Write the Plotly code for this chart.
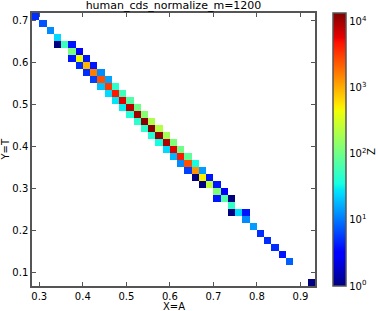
import numpy as np
import plotly.graph_objects as go

title_text = "human_cds_normalize_m=1200"
x_label = "X=A"
y_label = "Y=T"
z_label = "Z"

# histogram grid (bin edges on multiples of 1/60)
bin_width = 1 / 60
a_first_edge = 17 / 60
t_first_edge = 4 / 60
n_bins = 39

# non-empty rows of the 2-D histogram: T bin centre, A centre of first filled bin, counts
row_t = [0.7083, 0.6917, 0.6750, 0.6583, 0.6417, 0.6250, 0.6083, 0.5917, 0.5750, 0.5583,
         0.5417, 0.5250, 0.5083, 0.4917, 0.4750, 0.4583, 0.4417, 0.4250, 0.4083, 0.3917,
         0.3750, 0.3583, 0.3417, 0.3250, 0.3083, 0.2917, 0.2750, 0.2583, 0.2417, 0.2250,
         0.2083, 0.1917, 0.1750, 0.1583, 0.1417, 0.1250, 0.0750]
row_a_first = [0.2917, 0.3083, 0.3250, 0.3417, 0.3417, 0.3750, 0.3750, 0.3917, 0.4083, 0.4250,
               0.4417, 0.4583, 0.4750, 0.4917, 0.5083, 0.5250, 0.5417, 0.5583, 0.5750, 0.5917,
               0.6083, 0.6250, 0.6417, 0.6583, 0.6750, 0.7083, 0.7083, 0.7417, 0.7417, 0.7750,
               0.7917, 0.8083, 0.8250, 0.8417, 0.8583, 0.8750, 0.9250]
row_counts = [
    [5], [7], [12], [25], [1, 55, 4], [110, 3], [4, 450, 4], [5, 900, 4], [5, 1600, 12],
    [6, 2500, 15], [20, 3200, 45], [25, 4500, 55], [28, 6000, 70], [30, 8000, 100],
    [40, 10000, 130], [45, 12000, 200], [45, 12500, 220], [40, 11000, 180], [35, 9000, 120],
    [25, 6000, 100], [18, 4500, 80], [12, 2500, 35], [6, 1300, 14], [1, 500, 4], [1, 250, 4],
    [120, 3], [4, 70, 1], [50], [1, 25, 4], [12], [14], [5], [5], [5], [4], [8], [1],
]
z_max_count = 13300
cbar_ticks = [1, 10, 100, 1000, 10000]


def mpl_jet():
    pts = sorted({0, 0.11, 0.125, 0.34, 0.35, 0.375, 0.64, 0.65, 0.66, 0.89, 0.91, 1})
    r = np.interp(pts, [0, 0.35, 0.66, 0.89, 1], [0, 0, 1, 1, 0.5])
    g = np.interp(pts, [0, 0.125, 0.375, 0.64, 0.91, 1], [0, 0, 1, 1, 0, 0])
    b = np.interp(pts, [0, 0.11, 0.34, 0.65, 1], [0.5, 1, 1, 0, 0])
    return [[p, f"rgb({round(255*rr)},{round(255*gg)},{round(255*bb)})"]
            for p, rr, gg, bb in zip(pts, r, g, b)]


a_centers = a_first_edge + bin_width * (np.arange(n_bins) + 0.5)
t_centers = t_first_edge + bin_width * (np.arange(n_bins) + 0.5)
z = [[None] * n_bins for _ in range(n_bins)]
for t, a0, counts in zip(row_t, row_a_first, row_counts):
    j = int(round((t - t_first_edge) / bin_width - 0.5))
    for k, c in enumerate(counts):
        i = int(round((a0 - a_first_edge) / bin_width - 0.5)) + k
        z[j][i] = float(np.log10(c))

FONT = "DejaVu Sans"
LINE = "#555555"

fig = go.Figure(go.Heatmap(
    x=a_centers, y=t_centers, z=z,
    colorscale=mpl_jet(), zmin=0, zmax=float(np.log10(z_max_count)),
    hoverongaps=False,
    colorbar=dict(
        thickness=13, thicknessmode="pixels", len=1, lenmode="fraction",
        x=1.0636, xanchor="left", y=0.5, yanchor="middle", xpad=0, ypad=0,
        outlinecolor=LINE, outlinewidth=1.5,
        tickvals=[float(np.log10(v)) for v in cbar_ticks],
        ticktext=[f"10<sup>{int(np.log10(v))}</sup>" for v in cbar_ticks],
        ticks="", tickfont=dict(family=FONT, size=10, color="black"),
    ),
))

axis_common = dict(
    ticks="inside", ticklen=4, tickwidth=1, tickcolor=LINE,
    showline=True, linecolor=LINE, linewidth=1.5, mirror="ticks",
    showgrid=False, zeroline=False, automargin=False,
    tickfont=dict(family=FONT, size=10, color="black"),
)
x_ticks = [0.3, 0.4, 0.5, 0.6, 0.7, 0.8, 0.9]
y_ticks = [0.1, 0.2, 0.3, 0.4, 0.5, 0.6, 0.7]

fig.update_layout(
    width=378, height=311,
    margin=dict(l=32, r=63, t=13, b=25, pad=0),
    paper_bgcolor="white", plot_bgcolor="white",
    title=dict(text=title_text, x=0.5, xref="paper", xanchor="center",
               y=1 - 5.5 / 311, yref="container", yanchor="middle",
               font=dict(family=FONT, size=11, color="black")),
    xaxis=dict(range=[a_first_edge, a_first_edge + n_bins * bin_width],
               tickvals=x_ticks, ticktext=[f"{v:.1f}" for v in x_ticks], **axis_common),
    yaxis=dict(range=[t_first_edge, t_first_edge + n_bins * bin_width],
               tickvals=y_ticks, ticktext=[f"{v:.1f}" for v in y_ticks], **axis_common),
    annotations=[
        dict(text=x_label, x=0.5, xref="paper", y=(286 - 306) / 273, yref="paper",
             xanchor="center", yanchor="middle", showarrow=False,
             font=dict(family=FONT, size=10, color="black")),
        dict(text=y_label, x=(5 - 32) / 283, xref="paper", y=0.5, yref="paper",
             xanchor="center", yanchor="middle", showarrow=False, textangle=-90,
             font=dict(family=FONT, size=10, color="black")),
        dict(text=z_label, x=(371 - 32) / 283, xref="paper", y=(286 - 152) / 273, yref="paper",
             xanchor="center", yanchor="middle", showarrow=False, textangle=-90,
             font=dict(family=FONT, size=10, color="black")),
    ],
)

fig.write_html("out.html", config={"displayModeBar": False},
               post_script="document.body.style.margin='0';document.body.style.overflow='hidden';")
